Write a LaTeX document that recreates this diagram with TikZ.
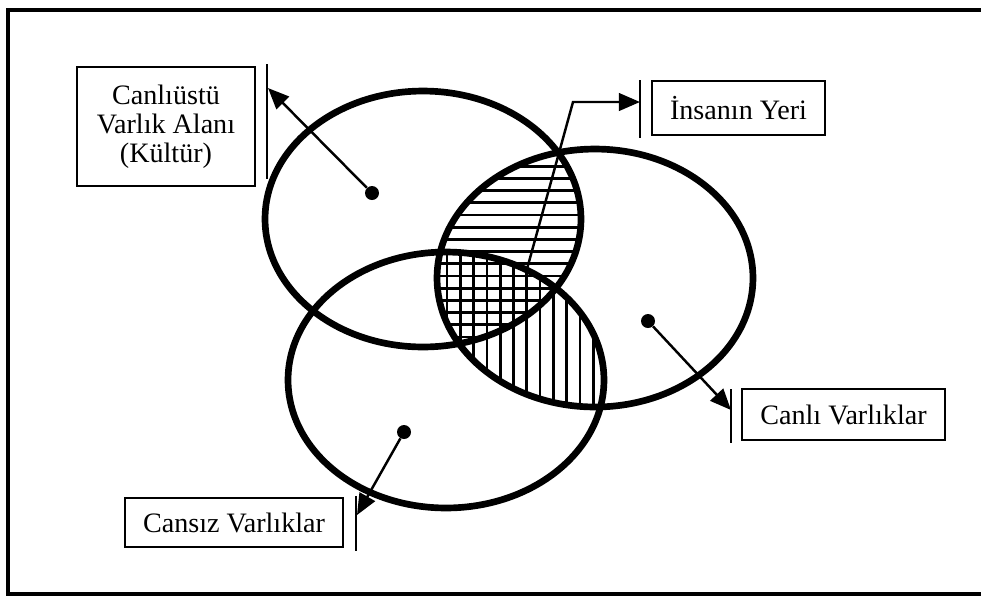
\documentclass[tikz,border=0pt]{standalone}
\usepackage{fontspec}
\setmainfont{Liberation Serif}
\usetikzlibrary{arrows.meta, positioning, calc}
\tikzstyle{lbl} = [rectangle, draw=black, line width=1.1pt, align=center, inner sep=0pt, font=\fontsize{16}{16.5}\selectfont]
\tikzstyle{ring} = [line width=3.8pt]
\tikzstyle{hatch} = [line width=1.5pt]
\tikzstyle{dot} = [circle, fill=black, minimum size=0.28cm, inner sep=0pt]
\tikzstyle{bar} = [line width=1.6pt]
\tikzstyle{arrow} = [line width=1.4pt, -{Triangle[length=12pt,width=10pt]}]
\def\ellKultur{(423,219) ellipse [x radius=3.16cm, y radius=2.56cm]}
\def\ellCanli{(595,278) ellipse [x radius=3.16cm, y radius=2.58cm]}
\def\ellCansiz{(446,380) ellipse [x radius=3.16cm, y radius=2.56cm]}

\begin{document}
\begin{tikzpicture}[x=0.02cm, y=-0.02cm]
    \useasboundingbox (0,0) rectangle (981,600);
    \clip (0,0) rectangle (981,600);
    % frame
    \draw[line width=2.4pt] (1000,10) -- (8,10) -- (8,594) -- (1000,594);

    % hatching
    \begin{scope}
        \clip \ellKultur;
        \clip \ellCanli;
        \foreach \y in {154,166.2,...,350}
            \draw[hatch] (420,\y) -- (600,\y);
    \end{scope}
    \begin{scope}
        \clip \ellCanli;
        \clip \ellCansiz;
        \foreach \x in {447,460.3,...,620}
            \draw[hatch] (\x,240) -- (\x,420);
    \end{scope}

    % circles
    \draw[ring] \ellKultur;
    \draw[ring] \ellCanli;
    \draw[ring] \ellCansiz;

    % labels
    \node (kultur) [lbl, minimum width=3.56cm, minimum height=2.38cm] at (166,126.5) {Canlıüstü\\Varlık Alanı\\(Kültür)};
    \node (insan) [lbl, minimum width=3.46cm, minimum height=1.08cm] at (738.5,108) {İnsanın Yeri};
    \node (canli) [lbl, minimum width=4.06cm, minimum height=1.02cm] at (843.5,414.5) {Canlı Varlıklar};
    \node (cansiz) [lbl, minimum width=4.36cm, minimum height=0.98cm] at (234,522.5) {Cansız Varlıklar};

    % bars
    \draw[bar] ([xshift=0.22cm,yshift=0.04cm]kultur.north east) -- ([xshift=0.22cm,yshift=0.16cm]kultur.south east);
    \draw[bar] ([xshift=-0.22cm]insan.north west) -- ([xshift=-0.22cm,yshift=-0.04cm]insan.south west);
    \draw[bar] ([xshift=-0.2cm,yshift=-0.02cm]canli.north west) -- ([xshift=-0.2cm,yshift=-0.04cm]canli.south west);
    \draw[bar] ([xshift=0.24cm,yshift=0.02cm]cansiz.north east) -- ([xshift=0.24cm,yshift=-0.06cm]cansiz.south east);

    % dots and arrows
    \node (dkultur) [dot] at (372,193) {};
    \node (dcanli) [dot] at (648,321) {};
    \node (dcansiz) [dot] at (404,432) {};
    \coordinate (tkultur) at (268,88);
    \coordinate (tinsan) at (640,102);
    \coordinate (tcanli) at (731,410);
    \coordinate (tcansiz) at (357,515);
    \coordinate (pinsan) at (527,269);
    \coordinate (kinsan) at (573,102);

    \draw [arrow] (dkultur) -- (tkultur);
    \draw [arrow] (dcanli) -- (tcanli);
    \draw [arrow] (dcansiz) -- (tcansiz);
    \draw [arrow] (pinsan) -- (kinsan) -- (tinsan);
\end{tikzpicture}
\end{document}
